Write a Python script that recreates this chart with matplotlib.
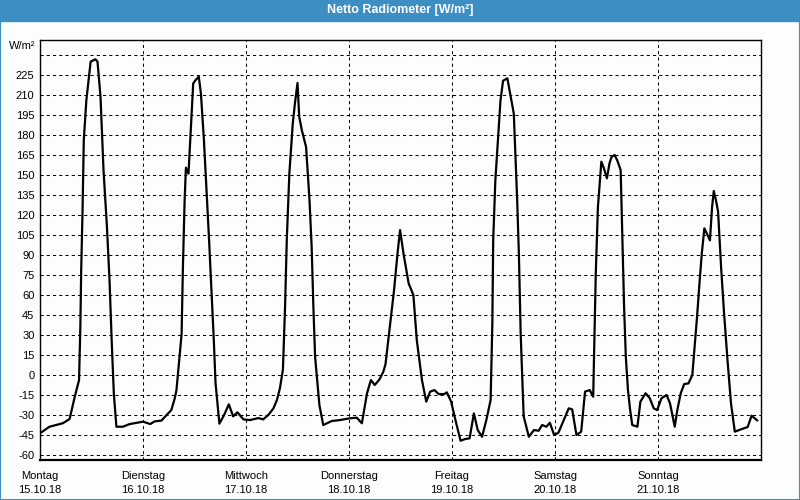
import matplotlib
matplotlib.use("Agg")
import matplotlib.pyplot as plt
from matplotlib.patches import Rectangle
import numpy as np

plt.rcParams['font.family'] = ['Liberation Sans', 'DejaVu Sans']

# hours since Monday 15.10.18 00:00
hours = [0, 2.2, 3.8, 5.3, 6.9, 8.1, 9.1, 9.4, 9.6, 9.9, 10.2, 10.8, 11.8, 12.9, 13.4,
         14.1, 14.8, 15.6, 16.2, 16.7, 17.2, 17.8, 19.3, 20.9, 24.0, 25.7, 26.7, 28.3,
         29.5, 30.6, 31.4, 31.8, 33.0, 33.3, 33.7, 34.0, 34.6, 35.7, 36.2, 37.0, 37.5,
         38.2, 38.8, 39.4, 40.0, 40.5, 40.9, 41.8, 42.9, 44.0, 45.0, 46.0, 47.4, 48.9,
         50.9, 52.0, 53.2, 54.4, 55.2, 55.9, 56.6, 57.1, 57.5, 58.1, 58.9, 59.4, 60.0,
         60.4, 61.0, 62.0, 62.8, 63.3, 63.7, 64.1, 65.1, 66.0, 68.0, 69.9, 72.1, 73.8,
         75.0, 76.2, 77.1, 78.0, 79.1, 80.0, 80.5, 81.6, 82.5, 83.3, 83.9, 84.7, 85.9,
         87.0, 87.8, 89.0, 90.0, 90.9, 91.9, 92.9, 94.2, 94.8, 95.8, 96.8, 98.0, 99.1,
         100.1, 101.1, 102.0, 103.0, 104.0, 105.0, 105.4, 105.6, 106.1, 106.8, 107.3,
         107.9, 108.9, 109.6, 110.4, 111.2, 111.6, 112.0, 112.7, 113.9, 115.1, 116.2,
         117.0, 118.0, 118.8, 119.8, 120.8, 122.1, 123.2, 124.0, 125.0, 126.1, 127.0,
         128.1, 128.9, 129.5, 130.0, 130.8, 131.4, 132.1, 132.7, 133.2, 133.9, 134.5,
         135.3, 135.7, 136.1, 136.5, 137.0, 137.5, 138.0, 139.2, 139.9, 141.1, 142.1,
         143.0, 143.8, 144.8, 146.0, 146.8, 147.9, 148.5, 149.3, 150.1, 151.1, 152.0,
         152.4, 153.1, 153.6, 154.2, 154.8, 155.4, 156.1, 156.6, 157.0, 157.5, 158.0,
         158.7, 159.4, 160.2, 161.0, 161.9, 163.3, 164.9, 165.8, 167.1]
values = [-43.7, -38.8, -37.5, -36.2, -33, -16.3, -3.8, 36, 79, 121, 176, 206, 235, 236.8, 235,
          208.7, 153.7, 111, 71, 26, -13.7, -38.8, -38.8, -36.8, -35, -36.8, -34.8, -34.2,
          -30, -26.3, -17.5, -11.3, 31, 81, 131, 155.5, 151, 218.7, 221, 223.7, 211,
          176, 139, 101, 61, 26, -6, -36.5, -30, -22, -31, -28, -33.3, -33.8,
          -32.3, -33.3, -30, -25, -18.8, -10, 4, 51, 101, 151, 188.7, 203.7, 219,
          193.7, 183.7, 171, 131, 96, 51, 13.7, -22.5, -37.5, -34.5, -33.8, -32.5, -32,
          -36.2, -13.7, -3.8, -7.5, -3.3, 2.5, 8, 38.8, 63.7, 91, 108.7, 91, 68.7,
          60, 26, -3.8, -20, -12.5, -11.3, -14.3, -14.3, -13, -20, -33.8, -49.3, -48,
          -47.5, -28.8, -41.3, -46.3, -33.8, -18.8, 38.8, 101, 146, 181, 206,
          220.7, 222.5, 210, 196, 130, 88.7, 31, -31, -46.3, -41.3, -41.8,
          -37.5, -38.8, -35.8, -45, -43.3, -33.3, -25, -25.8, -45, -42.5, -12.5,
          -11.3, -16.3, 76, 126, 160, 155, 147.5, 158.8, 163.7, 165, 161,
          153.7, 101, 51, 13.7, -11.3, -26, -37.5, -38.8, -20, -13.7, -17.5,
          -25, -26.3, -17.5, -15, -21.3, -38.8, -26.3, -13.7, -6.8, -6.3, 0,
          16, 43.7, 66, 91, 110, 106, 101, 126, 138, 131, 122.5,
          81, 46, 11, -21, -42.5, -40.8, -39, -30.5, -34]

day_ticks = [0, 24, 48, 72, 96, 120, 144]
day_labels = ["Montag\n15.10.18", "Dienstag\n16.10.18", "Mittwoch\n17.10.18",
              "Donnerstag\n18.10.18", "Freitag\n19.10.18", "Samstag\n20.10.18",
              "Sonntag\n21.10.18"]
y_ticks = list(range(-60, 241, 15))

bar_color = '#3d8fc3'
fig = plt.figure(figsize=(8, 5), dpi=100, facecolor='#fcfefd')

# title bar and window frame
fig.patches.append(Rectangle((0, 1 - 21 / 500), 1, 21 / 500, transform=fig.transFigure,
                             color=bar_color, zorder=0))
fig.patches.append(Rectangle((0.0006, 0.001), 0.9988, 0.998, transform=fig.transFigure,
                             fill=False, edgecolor=bar_color, linewidth=1.5, zorder=0))
fig.text(0.5, 1 - 10.5 / 500, "Netto Radiometer [W/m²]", color='white', fontsize=9,
         fontweight='bold', ha='center', va='center')

ax = fig.add_axes([40 / 800, 40 / 500, 721 / 800, 420 / 500])
ax.set_facecolor('#fcfefd')
ax.plot(hours, values, color='black', linewidth=1.6, zorder=3)

ax.set_xlim(0, 168)
ax.set_ylim(-63.75, 251.25)
ax.set_xticks(day_ticks)
ax.set_xticklabels(day_labels, fontsize=8, linespacing=1.45)
ax.set_yticks(y_ticks)
ax.set_yticklabels([str(v) if v < 240 else "" for v in y_ticks], fontsize=8)
ax.tick_params(length=0, colors='black')
ax.tick_params(axis='y', pad=4)
ax.tick_params(axis='x', pad=8)
ax.grid(True, color='black', linestyle=(0, (3, 3)), linewidth=0.75)
for s in ax.spines.values():
    s.set_linewidth(1.0)
ax.spines['bottom'].set_linewidth(1.6)

fig.text(35 / 800, 1 - 46 / 500, "W/m²", fontsize=8, ha='right', va='center')

fig.savefig("out.png", dpi=100, facecolor=fig.get_facecolor())
